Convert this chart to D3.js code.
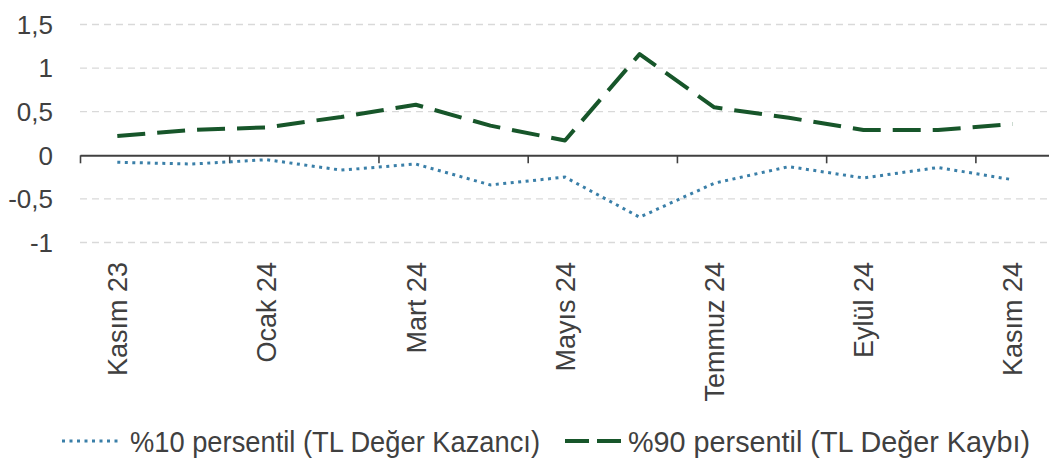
<!DOCTYPE html>
<html>
<head>
<meta charset="utf-8">
<script src="https://cdn.jsdelivr.net/npm/d3@7/dist/d3.min.js"></script>
<style>
  body { margin: 0; background: #fff; }
  svg { display: block; }
</style>
</head>
<body>
<svg id="chart" width="1049" height="461"></svg>
<script>
"use strict";

// months on the category axis (only every second one gets a label)
var months = ["Kasım 23", "Aralık 23", "Ocak 24", "Şubat 24", "Mart 24", "Nisan 24",
              "Mayıs 24", "Haziran 24", "Temmuz 24", "Ağustos 24", "Eylül 24", "Ekim 24", "Kasım 24"];
// %10 persentil (TL Değer Kazancı)
var p10 = [-0.08, -0.10, -0.05, -0.17, -0.10, -0.34, -0.25, -0.71, -0.32, -0.13, -0.26, -0.14, -0.28];
// %90 persentil (TL Değer Kaybı)
var p90 = [0.22, 0.29, 0.32, 0.44, 0.58, 0.34, 0.17, 1.16, 0.55, 0.43, 0.29, 0.29, 0.36];
var yTicks = [-1, -0.5, 0, 0.5, 1, 1.5];
var seriesNames = ["%10 persentil (TL Değer Kazancı)", "%90 persentil (TL Değer Kaybı)"];

var textColor = "#404040";
var blue = "#3a7fa8";
var green = "#17562a";

var svg = d3.select("#chart");

var x = d3.scaleLinear().domain([0, months.length]).range([80, 1050]);
var y = d3.scaleLinear().domain([-1, 1.5]).range([242.5, 24.5]);

var fmt = function(v) { return String(v).replace(".", ","); };

// dashed gridlines
svg.append("g")
  .selectAll("line")
  .data(yTicks.filter(function(d) { return d !== 0; }))
  .enter().append("line")
    .attr("x1", x(0))
    .attr("x2", x(months.length))
    .attr("y1", function(d) { return y(d); })
    .attr("y2", function(d) { return y(d); })
    .style("stroke", "#d9d9d9")
    .style("stroke-width", 1.3)
    .style("stroke-dasharray", "7,5");

// y labels
svg.append("g")
  .selectAll("text")
  .data(yTicks)
  .enter().append("text")
    .attr("x", 53)
    .attr("y", function(d) { return y(d); })
    .attr("dy", "0.36em")
    .attr("text-anchor", "end")
    .style("font-family", "'Liberation Sans', Arial, sans-serif")
    .style("font-size", "26px")
    .style("fill", textColor)
    .text(fmt);

// category axis on the zero line, ticks between every second month
var xAxis = d3.axisBottom(x)
  .tickValues(d3.range(0, months.length, 2))
  .tickFormat("")
  .tickSizeOuter(0)
  .tickSizeInner(8);

var axisG = svg.append("g")
  .attr("transform", "translate(0," + y(0) + ")")
  .call(xAxis);
axisG.select(".domain").style("stroke", textColor).style("stroke-width", 2);
axisG.selectAll(".tick line").style("stroke", textColor).style("stroke-width", 1.6);

// rotated month labels
svg.append("g")
  .selectAll("text")
  .data(d3.range(0, months.length, 2))
  .enter().append("text")
    .attr("transform", function(i) {
      return "translate(" + x(i + 0.5) + ",262) rotate(-90)";
    })
    .attr("dy", "0.36em")
    .attr("text-anchor", "end")
    .style("font-family", "'Liberation Sans', Arial, sans-serif")
    .style("font-size", "27px")
    .style("fill", textColor)
    .text(function(i) { return months[i]; });

var line = d3.line()
  .x(function(d, i) { return x(i + 0.5); })
  .y(function(d) { return y(d); });

svg.append("path")
  .datum(p10)
  .attr("d", line)
  .style("fill", "none")
  .style("stroke", blue)
  .style("stroke-width", 3)
  .style("stroke-dasharray", "3,4.5");

svg.append("path")
  .datum(p90)
  .attr("d", line)
  .style("fill", "none")
  .style("stroke", green)
  .style("stroke-width", 4)
  .style("stroke-dasharray", "28,12")
  .style("stroke-linejoin", "round");

// legend
var legend = svg.append("g").attr("class", "legend");
var items = [
  {name: seriesNames[0], color: blue, dash: "3,4.5", width: 3, x0: 62, x1: 122, tx: 130, len: 410},
  {name: seriesNames[1], color: green, dash: "24,8", width: 4, x0: 565, x1: 621, tx: 628, len: 402}
];
items.forEach(function(it) {
  legend.append("line")
    .attr("x1", it.x0).attr("x2", it.x1)
    .attr("y1", 441).attr("y2", 441)
    .style("stroke", it.color)
    .style("stroke-width", it.width)
    .style("stroke-dasharray", it.dash);
  legend.append("text")
    .attr("x", it.tx)
    .attr("y", 441)
    .attr("dy", "0.36em")
    .attr("textLength", it.len)
    .attr("lengthAdjust", "spacingAndGlyphs")
    .style("font-family", "'Liberation Sans', Arial, sans-serif")
    .style("font-size", "30px")
    .style("fill", textColor)
    .text(it.name);
});
</script>
</body>
</html>
